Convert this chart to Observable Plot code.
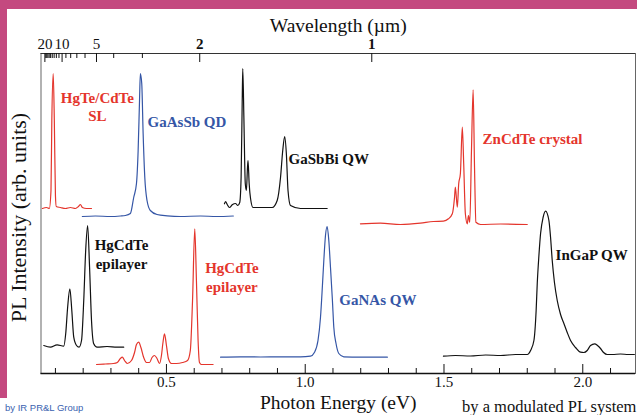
<!DOCTYPE html>
<html><head><meta charset="utf-8">
<script src="https://cdn.jsdelivr.net/npm/d3@7"></script>
<script src="https://cdn.jsdelivr.net/npm/@observablehq/plot@0.6"></script>
<style>
body{margin:0;background:#fff;}
#wrap{position:relative;width:637px;height:415px;overflow:hidden;background:#fff;}
#chart{position:absolute;left:0;top:0;}
.bar{position:absolute;background:#c4497f;}
.credit1{position:absolute;left:5px;top:402px;font:9.5px "Liberation Sans",Arial,sans-serif;color:#3a5fb0;white-space:nowrap;}
.credit2{position:absolute;left:462px;top:397px;font:16.5px "Liberation Serif","Times New Roman",serif;color:#111;white-space:nowrap;}
</style></head>
<body>
<div id="wrap">
<div id="chart"></div>
<div class="bar" style="left:0;top:0;width:637px;height:9px"></div>
<div class="bar" style="left:0;top:0;width:7px;height:398px"></div>
<div class="credit1">by IR PR&amp;L Group</div>
<div class="credit2">by a modulated PL system</div>
</div>
<script>
// Photon energy (eV) and PL intensity (arb. units, curves offset as in the figure)
const sl_E = [0.053,0.068,0.078,0.084,0.087,0.092,0.096,0.100,0.103,0.118,0.136,0.154,0.172,0.183,0.190,0.197,0.212,0.230];
const sl_I = [165,166,165,183,253,300,253,178,167,166,165,166,165,167,169,166,165,165];

const qd_E = [0.197,0.244,0.298,0.334,0.352,0.370,0.382,0.392,0.398,0.403,0.406,0.411,0.416,0.422,0.430,0.442,0.466,0.503,0.550,0.623,0.680,0.741];
const qd_I = [157,157.5,157,157.5,158,160,176,190,223,273,300,290,240,196,173,163,159,157.7,157,157.5,157,157.5];

const gsb_E = [0.709,0.713,0.719,0.727,0.737,0.749,0.757,0.764,0.769,0.773,0.775,0.779,0.784,0.788,0.792,0.794,0.798,0.803,0.812,0.839,0.881,0.899,0.911,0.919,0.926,0.932,0.938,0.947,0.983,1.031,1.079];
const gsb_I = [169.7,172,169,166,168.7,170,168,171,196,273,305,256,190,183,206,213,190,175,166,166,166,173,196,223,237,220,183,168,165,165,165];

const zn_E = [1.199,1.271,1.343,1.415,1.462,1.498,1.516,1.530,1.538,1.541,1.548,1.553,1.559,1.566,1.571,1.577,1.584,1.588,1.593,1.599,1.605,1.610,1.615,1.632,1.704,1.800];
const zn_I = [149.7,150.3,149,150.3,152,152.3,154.7,159.7,176.3,186.3,166.3,189.7,199.7,246.3,209.7,159.7,149.7,158,151.3,223,283.7,206.3,151.3,149,149.5,149];

const hgb_E = [0.058,0.082,0.106,0.130,0.137,0.144,0.152,0.159,0.166,0.176,0.185,0.194,0.202,0.209,0.216,0.223,0.230,0.238,0.250,0.286,0.322,0.346];
const hgb_I = [28,26.3,28.7,27.3,39.7,66.3,84.7,63,36.3,28,26.3,33,73,123,148,106.3,53,29.7,26.3,27,26.3,26.3];

const hgr_E = [0.248,0.280,0.309,0.323,0.334,0.341,0.349,0.359,0.374,0.385,0.392,0.400,0.408,0.418,0.428,0.439,0.448,0.457,0.466,0.475,0.482,0.487,0.493,0.500,0.507,0.518,0.536,0.558,0.576,0.586,0.594,0.602,0.608,0.614,0.619,0.626,0.644,0.668];
const hgr_I = [9,9.5,10,11,15,16.3,13,10,13,21,29,31.3,26,16,11,11,16,18,15,10,18,30,39.7,28,15,10,10,11,13,23,73,144.7,93,33,11,9,9,9];

const gan_E = [0.695,0.767,0.839,0.911,0.983,1.019,1.033,1.046,1.055,1.062,1.067,1.073,1.079,1.085,1.091,1.098,1.103,1.111,1.121,1.139,1.199,1.296];
const gan_I = [16.3,16.7,16.5,16.7,16.7,17.3,21,33,56,88,113,138,147,133,106.3,73,46.3,30,20,16.7,16.3,16.3];

const ingap_E = [1.498,1.541,1.595,1.650,1.704,1.758,1.800,1.812,1.824,1.832,1.836,1.842,1.848,1.857,1.866,1.878,1.884,1.890,1.898,1.908,1.920,1.932,1.944,1.956,1.974,1.992,2.004,2.016,2.028,2.043,2.053,2.064,2.075,2.088,2.107,2.136,2.164,2.186];
const ingap_I = [17.3,18,17.5,18.5,18,19,19,23,33,63,90,118,140,156,162.3,153,136,113,91,73,59,50,41,33,26,21.3,21,23,28,29.7,28,25,21,19,19,19.5,19,19];

// Axis ticks
const energyMajor = [0.5, 1.0, 1.5, 2.0];
const energyMinor = [0.1,0.2,0.3,0.4,0.6,0.7,0.8,0.9,1.1,1.2,1.3,1.4,1.6,1.7,1.8,1.9,2.1];
const wlMajor = [1, 2, 5, 10, 20];
const wlMinor = [3,4,6,7,8,9,11,12,13,14,15,16,17,18,19];
const wlLabelsPlain = [20, 10, 5];
const wlLabelsBold = [2, 1];

// Annotations: [text, energy, intensity, color, anchor]
const annotations = [
  ["HgTe/CdTe\nSL", 0.251, 267.5, "red", "middle"],
  ["GaAsSb QD", 0.432, 253, "blue", "start"],
  ["GaSbBi QW", 0.940, 216, "black", "start"],
  ["ZnCdTe crystal", 1.639, 236, "red", "start"],
  ["HgCdTe\nepilayer", 0.338, 120, "black", "middle"],
  ["HgCdTe\nepilayer", 0.736, 97, "red", "middle"],
  ["GaNAs QW", 1.123, 75, "blue", "start"],
  ["InGaP QW", 1.902, 120, "black", "start"]
];

const RED = "#e4352c", BLUE = "#3556a6", BLACK = "#111";
const colorOf = {red: RED, blue: BLUE, black: BLACK};
const HC = 1.2398; // eV·µm

const zip = (E, I) => E.slice(0, Math.min(E.length, I.length)).map((e, i) => ({E: e, I: I[i]}));
const series = [
  [sl_E, sl_I, RED], [qd_E, qd_I, BLUE], [gsb_E, gsb_I, BLACK], [zn_E, zn_I, RED],
  [hgb_E, hgb_I, BLACK], [hgr_E, hgr_I, RED], [gan_E, gan_I, BLUE], [ingap_E, ingap_I, BLACK]
];

const lineMarks = series.map(([E, I, c]) =>
  Plot.line(zip(E, I), {x: "E", y: "I", stroke: c, strokeWidth: 1.2, curve: "monotone-x"}));

const textMarks = ["start", "middle"].flatMap(anchor =>
  ["red", "blue", "black"].map(col =>
    Plot.text(annotations.filter(a => a[4] === anchor && a[3] === col), {
      x: d => d[1], y: d => d[2], text: d => d[0], fill: colorOf[col],
      textAnchor: anchor, fontWeight: "bold", fontSize: 15, lineHeight: 1.25
    })));

const plot = Plot.plot({
  width: 637, height: 415,
  marginLeft: 40.5, marginRight: 2, marginTop: 53, marginBottom: 42,
  x: {domain: [0.048, 2.19], axis: null},
  y: {domain: [0, 320], axis: null},
  style: {fontFamily: "'Liberation Serif','Times New Roman',serif", fontSize: "15px", background: "transparent", color: "#111"},
  marks: [
    Plot.frame({stroke: "#666"}),
    ...lineMarks,
    ...textMarks,
    Plot.ruleY([0], {stroke: "#111", strokeWidth: 1.5}),
    Plot.ruleY([320], {stroke: "#333", strokeWidth: 1}),
    Plot.tickX(energyMinor, {x: d => d, insetTop: 315, stroke: "#111"}),
    Plot.tickX(energyMajor, {x: d => d, insetTop: 311, stroke: "#111"}),
    Plot.tickX(wlMinor, {x: d => HC / d, insetBottom: 315, stroke: "#111"}),
    Plot.tickX(wlMajor, {x: d => HC / d, insetBottom: 311, stroke: "#111"}),
    Plot.text(energyMajor, {x: d => d, text: d => d.toFixed(1), frameAnchor: "bottom", dy: 13, fontSize: 15}),
    Plot.text(wlLabelsPlain, {x: d => HC / d, text: d => String(d), frameAnchor: "top", dy: -15, fontSize: 15}),
    Plot.text(wlLabelsBold, {x: d => HC / d, text: d => String(d), frameAnchor: "top", dy: -15, fontSize: 15, fontWeight: "bold"}),
    Plot.text(["Wavelength (µm)"], {frameAnchor: "top", textAnchor: "middle", dy: -35, fontSize: 19.5}),
    Plot.text(["Photon Energy (eV)"], {frameAnchor: "bottom", textAnchor: "middle", dy: 35, fontSize: 19.5}),
    Plot.text(["PL Intensity (arb. units)"], {frameAnchor: "left", textAnchor: "middle", dx: -22, dy: 4, rotate: -90, fontSize: 22})
  ]
});
document.getElementById("chart").appendChild(plot);
</script>
</body></html>
